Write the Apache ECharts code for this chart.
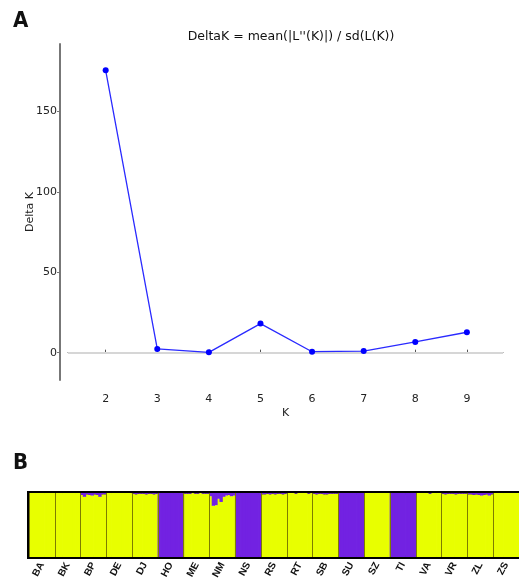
<!DOCTYPE html>
<html>
<head>
<meta charset="utf-8">
<script src="https://cdn.jsdelivr.net/npm/echarts@6/dist/echarts.min.js"></script>
<style>
html,body{margin:0;padding:0;background:#fff;}
#c{width:519px;height:585px;}
</style>
</head>
<body>
<div id="c"></div>
<script>
// Panel A: Delta K by K
const kValues = [2, 3, 4, 5, 6, 7, 8, 9];
const deltaK = [175.6, 2.3, 0.2, 18.1, 0.6, 1.0, 6.7, 12.7];
const yTickValues = [0, 50, 100, 150];

// Panel B: STRUCTURE barplot (K=2)
const populations = ['BA','BK','BP','DE','DJ','HO','ME','NM','NS','RS','RT','SB','SU','SZ','TI','VA','VR','ZL','ZS'];
const individualsPerPop = 10;
// share of purple cluster for each individual, population by population
const purpleShare = [
  0,0,0,0,0,0,0,0,0,0,                                   // BA
  0,0,0,0,0,0,0,0,0,0,                                   // BK
  0.03,0.06,0.02,0.03,0.04,0.02,0.03,0.06,0.02,0.02,     // BP
  0,0,0,0,0,0,0,0,0,0,                                   // DE
  0.01,0.02,0.01,0.01,0.01,0.02,0.01,0.01,0.02,0.01,     // DJ
  1,1,1,1,1,1,1,1,1,1,                                   // HO
  0.01,0.01,0.01,0,0.01,0.01,0,0.01,0.01,0.01,           // ME
  0.05,0.2,0.19,0.09,0.14,0.06,0.04,0.03,0.05,0.04,      // NM
  1,1,1,1,1,1,1,1,1,1,                                   // NS
  0.02,0.02,0.01,0.02,0.01,0.02,0.01,0.01,0.02,0.01,     // RS
  0,0,0,0.01,0,0,0,0,0.01,0,                             // RT
  0.01,0.02,0.01,0.01,0.02,0.02,0.01,0.01,0.01,0.01,     // SB
  1,1,1,1,1,1,1,1,1,1,                                   // SU
  0,0,0,0,0,0,0,0,0,0,                                   // SZ
  1,1,1,1,1,1,1,1,1,1,                                   // TI
  0,0,0,0,0,0.01,0,0,0,0,                                // VA
  0.01,0.02,0.01,0.01,0.01,0.02,0.01,0.01,0.01,0.01,     // VR
  0.02,0.02,0.03,0.02,0.03,0.04,0.03,0.02,0.04,0.02,     // ZL
  0,0,0,0,0,0,0,0,0,0                                    // ZS
];

const individuals = purpleShare.map((_, i) => populations[Math.floor(i / individualsPerPop)] + '_' + (i % individualsPerPop + 1));
const yellowShare = purpleShare.map(p => 1 - p);

const tickFont = {fontFamily: 'DejaVu Sans', fontSize: 11, color: '#222'};

const chart = echarts.init(document.getElementById('c'), null, {renderer: 'canvas'});
chart.setOption({
  animation: false,
  backgroundColor: '#fff',
  title: {
    text: "DeltaK = mean(|L''(K)|) / sd(L(K))",
    left: 286, top: 25, textAlign: 'center',
    textStyle: {fontFamily: 'DejaVu Sans', fontSize: 12.5, fontWeight: 'normal', color: '#111'}
  },
  graphic: [
    {type: 'text', left: 13, top: 10, style: {text: 'A', font: 'bold 22px "DejaVu Sans Condensed", "DejaVu Sans"', fill: '#111'}},
    {type: 'text', left: 13, top: 452, style: {text: 'B', font: 'bold 22px "DejaVu Sans Condensed", "DejaVu Sans"', fill: '#111'}}
  ],
  grid: [
    {left: 68, top: 44, width: 435, height: 336, containLabel: false},
    {left: 29, top: 493, width: 500, height: 64, show: true, borderColor: '#000', borderWidth: 4, backgroundColor: 'transparent'}
  ],
  xAxis: [
    {
      gridIndex: 0, type: 'value', min: 1.27, max: 9.7, offset: 9,
      name: 'K', nameLocation: 'middle', nameGap: 19, nameMoveOverlap: false,
      nameTextStyle: {fontFamily: 'DejaVu Sans', fontSize: 11, color: '#222'},
      axisLine: {show: true, lineStyle: {color: '#555', width: 1}},
      axisTick: {show: true, inside: true, length: 3, customValues: kValues, lineStyle: {color: '#555'}},
      axisLabel: Object.assign({customValues: kValues, margin: 5}, tickFont),
      splitLine: {show: false}
    },
    {gridIndex: 1, type: 'category', data: individuals, show: false, boundaryGap: true},
    {
      gridIndex: 1, type: 'category', data: populations, position: 'bottom', boundaryGap: true, z: 10,
      axisLine: {show: false}, axisTick: {show: false},
      splitLine: {show: true, interval: 0, lineStyle: {color: '#7d7d00', width: 1}},
      axisLabel: {interval: 0, rotate: 62, margin: 6, fontFamily: 'Liberation Sans', fontSize: 10, fontWeight: 'bold', color: '#111'}
    }
  ],
  yAxis: [
    {
      gridIndex: 0, type: 'value', min: -17, max: 192, offset: 8,
      name: 'Delta K', nameLocation: 'middle', nameGap: 24, nameMoveOverlap: false,
      nameTextStyle: {fontFamily: 'DejaVu Sans', fontSize: 11, color: '#222'},
      axisLine: {show: true, lineStyle: {color: '#777', width: 2}},
      axisTick: {show: true, length: 3, customValues: yTickValues, lineStyle: {color: '#777'}},
      axisLabel: Object.assign({customValues: yTickValues, margin: 3}, tickFont),
      splitLine: {show: false}
    },
    {gridIndex: 1, type: 'value', min: 0, max: 1, show: false}
  ],
  series: [
    {
      type: 'line', xAxisIndex: 0, yAxisIndex: 0,
      data: kValues.map((k, i) => [k, deltaK[i]]),
      symbol: 'circle', symbolSize: 6,
      lineStyle: {color: '#2a2aff', width: 1.3},
      itemStyle: {color: '#0000ff'},
      markLine: {
        silent: true, symbol: 'none', label: {show: false},
        lineStyle: {color: '#d6d6d6', width: 2, type: 'solid'},
        data: [{yAxis: 0}], z: 1
      },
      z: 3
    },
    {
      type: 'bar', xAxisIndex: 1, yAxisIndex: 1, stack: 'q', data: yellowShare,
      barCategoryGap: '-30%', barGap: 0, itemStyle: {color: '#e8ff00'}, silent: true
    },
    {
      type: 'bar', xAxisIndex: 1, yAxisIndex: 1, stack: 'q', data: purpleShare,
      barCategoryGap: '-30%', barGap: 0, itemStyle: {color: '#7222e2'}, silent: true
    }
  ]
});
</script>
</body>
</html>
